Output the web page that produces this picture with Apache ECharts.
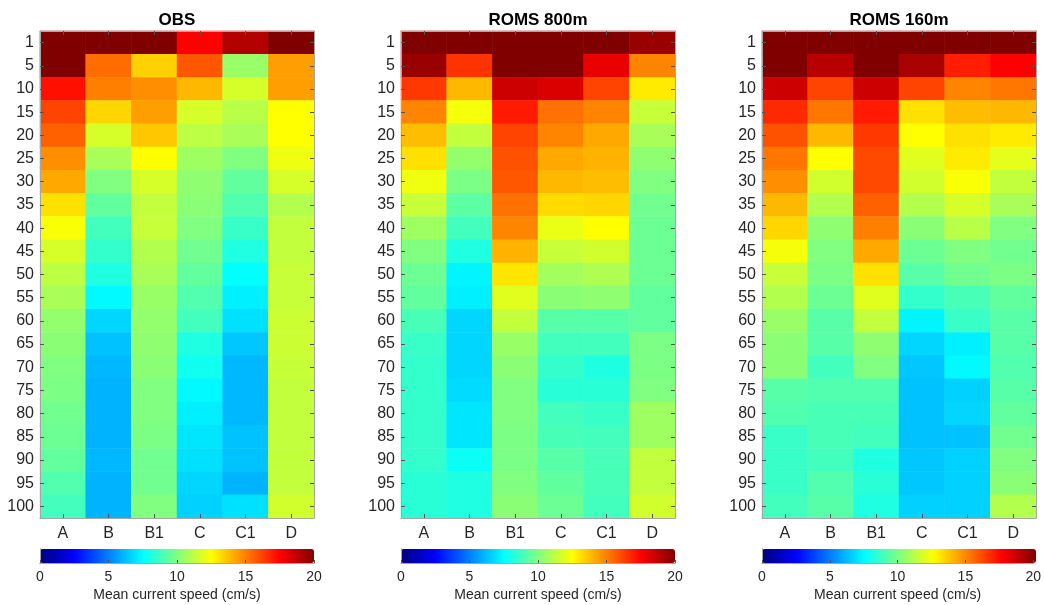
<!DOCTYPE html>
<html>
<head>
<meta charset="utf-8">
<script src="https://cdn.jsdelivr.net/npm/echarts@6/dist/echarts.min.js"></script>
<style>
html,body{margin:0;padding:0;background:#fff;}
#chart{width:1044px;height:605px;}
</style>
</head>
<body>
<div id="chart"></div>
<script>
// ---------- data ----------
const stations = ['A', 'B', 'B1', 'C', 'C1', 'D'];
const depths = ['1', '5', '10', '15', '20', '25', '30', '35', '40', '45', '50',
                '55', '60', '65', '70', '75', '80', '85', '90', '95', '100'];
const panelTitles = ['OBS', 'ROMS 800m', 'ROMS 160m'];
const colorbarTicks = [0, 5, 10, 15, 20];
const colorbarLabel = 'Mean current speed (cm/s)';

// rows = depths, columns = stations (A, B, B1, C, C1, D)
const obsSpeed = [
  [20.0, 20.0, 20.0, 17.5, 19.0, 20.0],
  [20.0, 15.4, 13.4, 15.8, 10.5, 14.4],
  [17.2, 15.0, 14.7, 13.9, 11.7, 14.4],
  [16.2, 13.3, 14.4, 11.7, 11.1, 12.5],
  [15.6, 11.7, 13.6, 11.2, 10.8, 12.5],
  [14.7, 10.8, 12.5, 10.6, 10.0, 12.2],
  [14.2, 10.0, 11.7, 10.3, 9.4, 11.7],
  [13.1, 9.4, 11.3, 10.2, 9.1, 11.0],
  [12.4, 8.8, 11.4, 10.0, 8.6, 11.3],
  [11.7, 8.5, 11.0, 9.7, 8.1, 11.3],
  [11.2, 8.1, 10.8, 9.4, 7.5, 11.4],
  [10.8, 7.4, 10.5, 9.1, 7.2, 11.4],
  [10.4, 6.7, 10.4, 8.8, 6.9, 11.5],
  [10.2, 6.3, 10.3, 8.1, 6.4, 11.5],
  [10.0, 6.1, 10.2, 7.8, 6.1, 11.4],
  [9.9, 6.0, 10.0, 7.4, 6.1, 11.3],
  [9.7, 6.0, 10.0, 7.2, 6.1, 11.3],
  [9.6, 6.0, 9.9, 7.0, 6.3, 11.3],
  [9.4, 6.1, 9.7, 6.9, 6.3, 11.3],
  [9.1, 6.0, 9.7, 6.7, 6.0, 11.3],
  [8.8, 6.0, 10.0, 6.6, 6.9, 11.6]
];
const roms800Speed = [
  [20.0, 20.0, 20.0, 20.0, 20.0, 19.5],
  [19.5, 16.5, 20.0, 20.0, 17.9, 14.9],
  [16.4, 13.9, 18.5, 18.2, 16.2, 12.9],
  [14.9, 12.3, 17.0, 15.3, 14.9, 11.4],
  [13.8, 11.3, 16.2, 14.9, 14.2, 10.8],
  [13.1, 10.4, 15.9, 14.2, 14.0, 10.3],
  [12.2, 9.9, 15.8, 13.9, 13.8, 10.0],
  [11.4, 9.3, 15.3, 13.2, 13.3, 9.7],
  [10.6, 8.8, 14.9, 12.1, 12.5, 9.6],
  [10.0, 8.1, 14.0, 11.4, 11.6, 9.6],
  [9.6, 7.3, 13.0, 10.7, 10.9, 9.6],
  [9.4, 7.2, 11.9, 10.2, 10.3, 9.4],
  [8.9, 6.7, 11.3, 9.2, 9.2, 9.4],
  [8.6, 6.7, 10.5, 8.8, 8.8, 9.9],
  [8.5, 6.7, 10.2, 8.5, 8.1, 9.9],
  [8.5, 6.8, 10.0, 8.3, 8.3, 10.0],
  [8.5, 7.0, 10.0, 8.8, 8.6, 10.6],
  [8.5, 7.0, 9.9, 8.9, 8.8, 10.6],
  [8.5, 7.7, 9.9, 9.2, 8.9, 11.3],
  [8.3, 8.1, 10.0, 9.4, 8.9, 11.3],
  [8.3, 8.1, 10.2, 9.6, 8.8, 11.6]
];
const roms160Speed = [
  [20.0, 20.0, 20.0, 20.0, 20.0, 20.0],
  [20.0, 18.9, 20.0, 19.2, 16.9, 17.5],
  [18.5, 16.2, 18.5, 16.2, 14.9, 15.2],
  [16.7, 15.2, 17.0, 13.1, 13.8, 13.9],
  [15.9, 13.9, 16.4, 12.5, 13.1, 12.9],
  [15.2, 12.5, 16.1, 11.9, 12.9, 12.0],
  [14.7, 11.6, 16.1, 11.6, 12.4, 11.3],
  [13.9, 11.0, 15.6, 11.0, 11.7, 10.8],
  [13.3, 10.3, 15.0, 10.2, 11.1, 10.0],
  [12.3, 10.0, 14.2, 9.6, 10.0, 9.7],
  [11.4, 9.9, 13.1, 9.2, 9.7, 9.9],
  [11.0, 9.6, 11.9, 8.5, 8.9, 9.4],
  [10.5, 9.2, 11.3, 7.3, 8.6, 9.2],
  [10.2, 9.2, 10.3, 6.7, 7.2, 9.2],
  [10.2, 8.8, 10.0, 6.4, 7.4, 9.1],
  [9.2, 9.1, 9.1, 6.3, 6.6, 9.2],
  [9.1, 8.9, 8.9, 6.3, 6.7, 9.4],
  [8.6, 8.9, 8.8, 6.3, 6.3, 9.7],
  [8.6, 8.8, 8.1, 6.4, 6.6, 10.0],
  [8.6, 9.1, 8.3, 6.4, 6.6, 10.2],
  [8.8, 9.2, 8.1, 6.6, 6.6, 11.0]
];
const panels = [obsSpeed, roms800Speed, roms160Speed];

// ---------- styling ----------
const jet = ['#000080', '#0000ff', '#0080ff', '#00ffff', '#80ff80',
             '#ffff00', '#ff8000', '#ff0000', '#800000'];
const FONT = "'Liberation Sans', Arial, Helvetica, sans-serif";
const textColor = '#262626';
const boxColor = '#a6a6a6';
const tickColor = '#555';

const panelLeft = [40, 401, 762];
const panelWidth = 274;
const plotTop = 31;
const plotHeight = 487;
const cbTop = 549;
const cbHeight = 14;

const grid = [], xAxis = [], yAxis = [], series = [], visualMap = [], graphic = [];

function toCells(rows) {
  const out = [];
  rows.forEach((row, yi) => row.forEach((v, xi) => out.push([xi, yi, v])));
  return out;
}

panels.forEach((rows, p) => {
  // heatmap grid
  const g = grid.length;
  grid.push({ left: panelLeft[p], top: plotTop, width: panelWidth, height: plotHeight, containLabel: false });
  const xb = xAxis.length;
  xAxis.push({
    type: 'category', gridIndex: g, data: stations, position: 'bottom', z: 10,
    axisLine: { show: true, lineStyle: { color: boxColor, width: 1 } },
    axisTick: { show: true, inside: true, alignWithLabel: true, length: 4, lineStyle: { color: tickColor } },
    axisLabel: { color: textColor, fontSize: 16, fontFamily: FONT, margin: 8 },
    splitLine: { show: false }
  });
  xAxis.push({
    type: 'category', gridIndex: g, data: stations, position: 'top', z: 10,
    axisLine: { show: true, lineStyle: { color: boxColor, width: 1 } },
    axisTick: { show: true, inside: true, alignWithLabel: true, length: 4, lineStyle: { color: tickColor } },
    axisLabel: { show: false }, splitLine: { show: false }
  });
  const yb = yAxis.length;
  yAxis.push({
    type: 'category', gridIndex: g, data: depths, inverse: true, position: 'left', z: 10,
    axisLine: { show: true, lineStyle: { color: boxColor, width: 1 } },
    axisTick: { show: true, inside: true, alignWithLabel: true, length: 4, lineStyle: { color: tickColor } },
    axisLabel: { color: textColor, fontSize: 16, fontFamily: FONT, margin: 6, interval: 0 },
    splitLine: { show: false }
  });
  yAxis.push({
    type: 'category', gridIndex: g, data: depths, inverse: true, position: 'right', z: 10,
    axisLine: { show: true, lineStyle: { color: boxColor, width: 1 } },
    axisTick: { show: true, inside: true, alignWithLabel: true, length: 4, lineStyle: { color: tickColor } },
    axisLabel: { show: false }, splitLine: { show: false }
  });
  const si = series.length;
  series.push({
    type: 'heatmap', name: panelTitles[p], xAxisIndex: xb, yAxisIndex: yb,
    data: toCells(rows), emphasis: { disabled: true }, itemStyle: { borderWidth: 0 },
    progressive: 0, animation: false
  });
  visualMap.push({
    type: 'continuous', seriesIndex: si, min: 0, max: 20, orient: 'horizontal',
    left: panelLeft[p], top: cbTop, itemWidth: cbHeight, itemHeight: panelWidth,
    padding: 0, calculable: false, hoverLink: false, realtime: false,
    inRange: { color: jet }, text: null, textStyle: { fontSize: 0 }
  });
  // colorbar frame + ticks
  const cg = grid.length;
  grid.push({ left: panelLeft[p], top: cbTop, width: panelWidth, height: cbHeight });
  xAxis.push({
    type: 'value', gridIndex: cg, min: 0, max: 20, interval: 5, position: 'bottom', z: 10,
    axisLine: { show: true, lineStyle: { color: boxColor, width: 1 } },
    axisTick: { show: true, inside: true, length: 3, lineStyle: { color: tickColor } },
    axisLabel: { color: textColor, fontSize: 14, fontFamily: FONT, margin: 7,
                 formatter: v => colorbarTicks.includes(v) ? String(v) : '' },
    splitLine: { show: false },
    name: colorbarLabel, nameLocation: 'middle', nameGap: 25,
    nameTextStyle: { color: textColor, fontSize: 14, fontFamily: FONT }
  });
  xAxis.push({
    type: 'value', gridIndex: cg, min: 0, max: 20, position: 'top', z: 10,
    axisLine: { show: true, lineStyle: { color: boxColor, width: 1 } },
    axisTick: { show: false }, axisLabel: { show: false }, splitLine: { show: false }
  });
  yAxis.push({
    type: 'value', gridIndex: cg, min: 0, max: 1, position: 'left', z: 10,
    axisLine: { show: true, lineStyle: { color: boxColor, width: 1 } },
    axisTick: { show: false }, axisLabel: { show: false }, splitLine: { show: false }
  });
  yAxis.push({
    type: 'value', gridIndex: cg, min: 0, max: 1, position: 'right', z: 10,
    axisLine: { show: true, lineStyle: { color: boxColor, width: 1 } },
    axisTick: { show: false }, axisLabel: { show: false }, splitLine: { show: false }
  });
  graphic.push({
    type: 'text', x: panelLeft[p] + panelWidth / 2, y: 20,
    style: { text: panelTitles[p], fill: '#000', font: 'bold 17px ' + FONT,
             textAlign: 'center', textVerticalAlign: 'middle' }
  });
});

const chart = echarts.init(document.getElementById('chart'), null, { renderer: 'canvas' });
chart.setOption({
  animation: false,
  backgroundColor: '#fff',
  grid, xAxis, yAxis, series, visualMap, graphic
});
</script>
</body>
</html>
